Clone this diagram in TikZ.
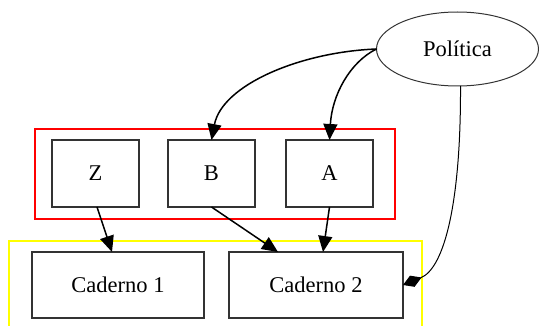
\documentclass[tikz,border=0pt]{standalone}
\usepackage{fontspec}
\setmainfont{Liberation Serif}
\usetikzlibrary{arrows.meta,shapes.geometric}
\definecolor{clred}{RGB}{255,0,0}
\definecolor{clyellow}{RGB}{255,255,0}
\tikzset{
  boxnode/.style={draw=black!80, line width=1.1pt, inner sep=0pt, outer sep=0pt, font=\fontsize{22.5}{26}\selectfont},
  ellnode/.style={draw=black!80, ellipse, line width=1pt, inner sep=0pt, outer sep=0pt, font=\fontsize{22.5}{26}\selectfont},
  conn/.style={line width=1.5pt, -{Triangle[length=16pt,width=14pt]}},
  dconn/.style={line width=1pt, -{Diamond[length=20pt,width=12pt]}},
  redcluster/.style={draw=clred, line width=1.5pt},
  yelcluster/.style={draw=clyellow, line width=1.5pt}
}
\begin{document}
\begin{tikzpicture}[x=1pt,y=-1pt]
\useasboundingbox (0,0) rectangle (539,326);
% clusters
\draw[redcluster] (35,129) -- (395,129) -- (395,219) -- (35,219) -- cycle;
\draw[yelcluster] (9,327) -- (9,241) -- (422,241) -- (422,327);
% nodes
\node[ellnode, minimum width=162pt, minimum height=74pt] (pol) at (457.5,49) {Política};
\node[boxnode, minimum width=87pt, minimum height=67pt] (z) at (95.5,173.5) {Z};
\node[boxnode, minimum width=87pt, minimum height=67pt] (b) at (211.5,173.5) {B};
\node[boxnode, minimum width=87pt, minimum height=67pt] (a) at (329.5,173.5) {A};
\node[boxnode, minimum width=172pt, minimum height=66pt] (c1) at (118,285) {Caderno 1};
\node[boxnode, minimum width=174pt, minimum height=66pt] (c2) at (316,285) {Caderno 2};
% connectors
\draw[conn] (pol.west) .. controls (300,52) and (222,85) .. (b.north);
\draw[conn] (pol.west) .. controls (350,62) and (332,95) .. (a.north);
\draw[dconn] ([xshift=3pt]pol.south) .. controls (461,200) and (445,268) .. (c2.east);
\draw[conn] ([xshift=1.5pt]z.south) -- ([xshift=-6pt]c1.north);
\draw[conn] (b.south) -- ([xshift=-38pt]c2.north);
\draw[conn] (a.south) -- ([xshift=7pt]c2.north);
\end{tikzpicture}
\end{document}
